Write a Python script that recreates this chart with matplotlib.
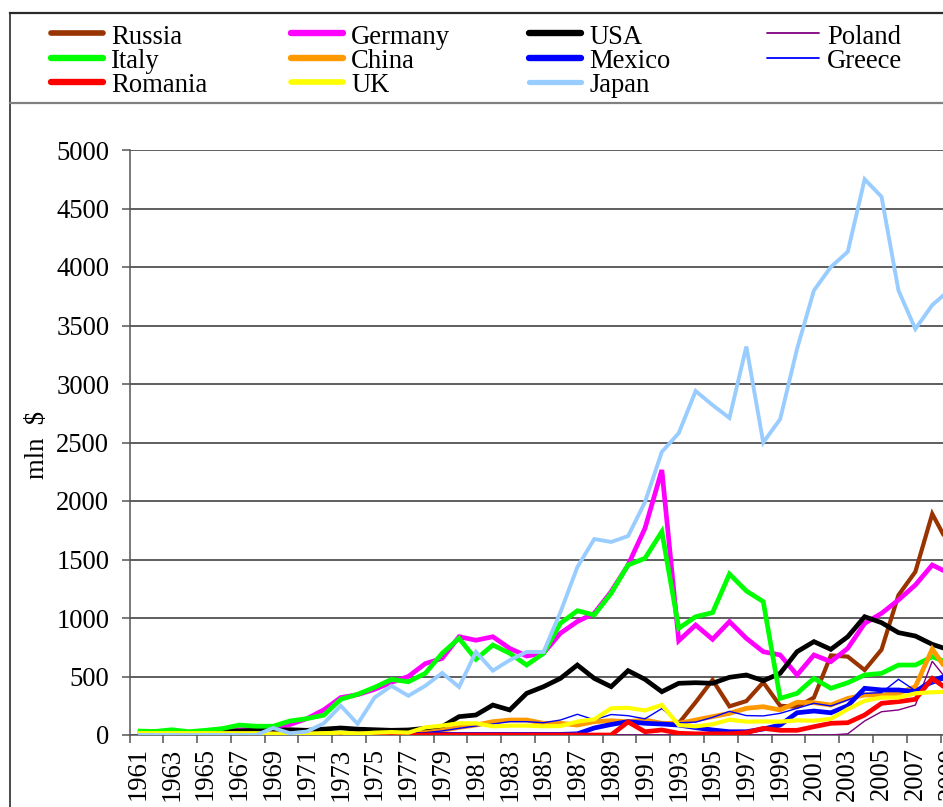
import numpy as np
import matplotlib
matplotlib.use("Agg")
import matplotlib.pyplot as plt
from matplotlib.lines import Line2D
from matplotlib.ticker import FixedLocator, NullFormatter

NaN = np.nan
years = list(range(1961, 2010))

russia = [NaN] * 32 + [100, 280, 470, 245, 290, 450, 250, 240, 320, 680, 670,
                       555, 730, 1195, 1395, 1890, 1620]
germany = [20, 30, 25, 20, 30, 35, 45, 50, 60, 90, 140, 215, 320, 345, 390, 450,
           500, 610, 655, 840, 810, 840, 740, 675, 700, 870, 970, 1040, 1225, 1453,
           1766, 2265, 806, 940, 818, 969, 826, 712, 684, 513, 684, 627, 741, 954,
           1040, 1154, 1282, 1453, 1382]
usa = [20, 25, 20, 20, 25, 30, 35, 40, 40, 45, 40, 50, 60, 50, 45, 40, 43, 57,
       71, 157, 171, 256, 214, 356, 413, 484, 598, 484, 413, 550, 476, 370, 442,
       447, 442, 493, 513, 464, 527, 712, 798, 732, 840, 1011, 960, 875, 846, 775,
       727]
poland = [0] * 42 + [10, 120, 199, 214, 256, 630, 450]
italy = [34, 30, 45, 28, 40, 55, 85, 75, 75, 120, 140, 170, 305, 348, 407, 475,
         455, 527, 698, 826, 647, 769, 698, 598, 698, 955, 1062, 1026, 1211, 1453,
         1510, 1738, 912, 1011, 1046, 1376, 1231, 1140, 313, 356, 484, 399, 447,
         513, 527, 598, 598, 669, 613]
china = [10] * 16 + [15, 20, 40, 65, 85, 114, 128, 128, 100, 100, 85, 114, 122,
                     114, 128, 100, 100, 128, 157, 185, 228, 242, 214, 280, 276,
                     256, 313, 342, 342, 356, 413, 735, 527]
mexico = [5] * 26 + [10, 60, 90, 114, 100, 94, 85, 63, 43, 28, 28, 51, 85, 190,
                     205, 190, 250, 399, 385, 385, 370, 465, 513]
greece = [10] * 15 + [15, 15, 20, 35, 57, 77, 94, 114, 114, 105, 128, 177, 130,
                      175, 165, 138, 226, 105, 110, 151, 202, 166, 163, 185, 228,
                      271, 248, 299, 356, 362, 476, 379, 436, 490]
romania = [0] * 29 + [112, 28, 43, 15, 10, 10, 10, 20, 57, 40, 40, 71, 100, 105,
                      171, 271, 285, 305, 484, 380]
uk = [15] * 8 + [10, 5, 10, 15, 20, 10, 20, 25, 20, 65, 80, 100, 100, 74, 80, 80,
                 75, 77, 114, 134, 228, 232, 210, 256, 85, 74, 92, 131, 114, 116,
                 114, 125, 122, 138, 221, 292, 320, 320, 356, 366, 370]
japan = [0] * 8 + [60, 15, 30, 100, 250, 95, 320, 420, 335, 420, 530, 410, 710,
                   550, 640, 710, 710, 1050, 1435, 1675, 1650, 1700, 1990, 2420,
                   2580, 2940, 2820, 2710, 3320, 2500, 2700, 3300, 3800, 4000, 4130,
                   4750, 4600, 3800, 3470, 3675, 3800]

# Excel series order (legend is filled row by row, 4 per row)
series = [
    ("Russia",  russia,  "#993300", 3.0),
    ("Germany", germany, "#FF00FF", 3.4),
    ("USA",     usa,     "#000000", 3.4),
    ("Poland",  poland,  "#800080", 1.0),
    ("Italy",   italy,   "#00FF00", 3.4),
    ("China",   china,   "#FF9900", 3.4),
    ("Mexico",  mexico,  "#0000FF", 3.4),
    ("Greece",  greece,  "#0000FF", 1.0),
    ("Romania", romania, "#FF0000", 3.4),
    ("UK",      uk,      "#FFFF00", 3.0),
    ("Japan",   japan,   "#99CCFF", 2.8),
]

W, H = 943, 807
plt.rcParams["font.family"] = ["Liberation Serif", "DejaVu Serif"]
FS = 19.2

fig = plt.figure(figsize=(W / 100, H / 100), dpi=100)
fig.patch.set_facecolor("white")

# ── plot area (category axis, extends past right edge like the source) ──
cat_w = 16.9
x_left = 129.5
ax = fig.add_axes([x_left / W, (H - 735) / H, 49 * cat_w / W, 585 / H])
idx = np.arange(len(years))
for z, (name, vals, col, lw) in enumerate(series):
    ax.plot(idx, vals, color=col, lw=lw, solid_joinstyle="miter",
            solid_capstyle="butt", zorder=3 + z)

ax.set_xlim(-0.5, 48.5)
ax.set_ylim(0, 5000)
ax.set_yticks(range(0, 5001, 500))
ax.yaxis.grid(True, color="#333333", lw=1.1)
ax.set_axisbelow(True)
for s in ("top", "right"):
    ax.spines[s].set_visible(False)
for s in ("left", "bottom"):
    ax.spines[s].set_color("#555555")
    ax.spines[s].set_linewidth(1.1)

ax.set_xticks(idx[::2])
ax.set_xticklabels([str(y) for y in years[::2]], rotation=90, fontsize=FS)
ax.xaxis.set_minor_locator(FixedLocator(np.arange(-0.5, 49, 2)))
ax.xaxis.set_minor_formatter(NullFormatter())
ax.tick_params(axis="x", which="major", length=0, pad=9)
ax.tick_params(axis="x", which="minor", length=5.5, width=1.1, color="#555555")
ax.tick_params(axis="y", length=5.5, width=1.1, color="#555555", pad=9,
               labelsize=FS)

ax.set_ylabel("mln  $", fontsize=FS)
ax.yaxis.set_label_coords((50 - x_left) / (49 * cat_w), 0.496)

# ── outer frame and legend box ──
def fx(px):
    return px / W

def fy(py):
    return 1 - py / H

fig.add_artist(Line2D([fx(10), fx(W + 5)], [fy(13), fy(13)], color="#2b2b2b", lw=1.6))
fig.add_artist(Line2D([fx(10), fx(10)], [fy(13), fy(H + 5)], color="#2b2b2b", lw=1.2))
fig.add_artist(Line2D([fx(10), fx(W + 5)], [fy(103), fy(103)], color="#808080", lw=1.6))

col_x = [51, 291, 529, 767]
row_y = [33, 58, 82]
for k, (name, vals, col, lw) in enumerate(series):
    r, c = divmod(k, 4)
    x0 = col_x[c]
    y0 = row_y[r]
    fig.add_artist(Line2D([fx(x0), fx(x0 + 52)], [fy(y0), fy(y0)], color=col,
                          lw=lw * 1.35 if lw > 1.5 else 1.3,
                          solid_capstyle="round"))
    fig.text(fx(x0 + 60), fy(y0 + 4), name, fontsize=FS, va="center", ha="left")

fig.savefig("out.png", dpi=100, facecolor="white")
